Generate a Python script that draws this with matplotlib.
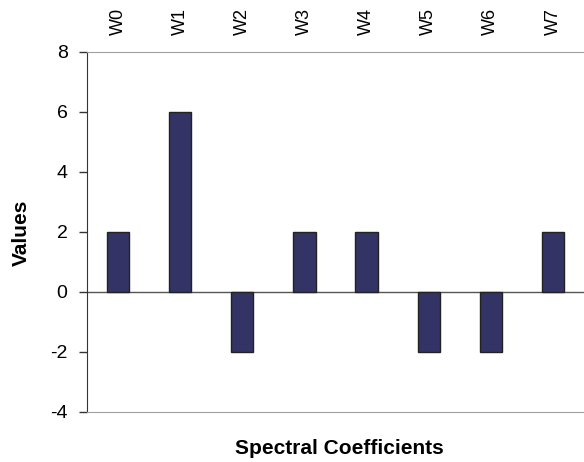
import matplotlib.pyplot as plt
import numpy as np

# data
labels = ["W0", "W1", "W2", "W3", "W4", "W5", "W6", "W7"]
values = [2, 6, -2, 2, 2, -2, -2, 2]

plt.rcParams["font.family"] = ["Liberation Sans", "DejaVu Sans"]
plt.rcParams["axes.unicode_minus"] = False

fig = plt.figure(figsize=(5.84, 4.62), dpi=100)
ax = fig.add_axes([87 / 584, 50.5 / 462, 497 / 584, 359.5 / 462])

x = np.arange(len(labels))
ax.bar(x, values, width=0.36, color="#333366", edgecolor="#222222", linewidth=1.0, zorder=3)
ax.axhline(0, color="#555555", linewidth=1.0, zorder=2)

ax.set_xlim(-0.5, len(labels) - 0.5)
ax.set_ylim(-4, 8)
ax.set_yticks(np.arange(-4, 9, 2))

ax.xaxis.tick_top()
ax.set_xticks(x)
ax.set_xticklabels(labels, rotation=90, fontsize=13)
ax.tick_params(axis="x", length=0, pad=12)
ax.tick_params(axis="y", length=6, width=1, direction="out", pad=8, labelsize=14, color="#333333")

ax.spines["left"].set_color("#333333")
ax.spines["top"].set_color("#a0a0a0")
ax.spines["bottom"].set_color("#a0a0a0")
ax.spines["right"].set_visible(False)

fig.text(21 / 584, 1 - 233 / 462, "Values", ha="center", va="center", rotation=90,
         fontsize=15, fontweight="bold")
fig.text(339 / 584, 1 - 449 / 462, "Spectral Coefficients", ha="center", va="center",
         fontsize=15, fontweight="bold")

fig.savefig("out.png", dpi=100)
